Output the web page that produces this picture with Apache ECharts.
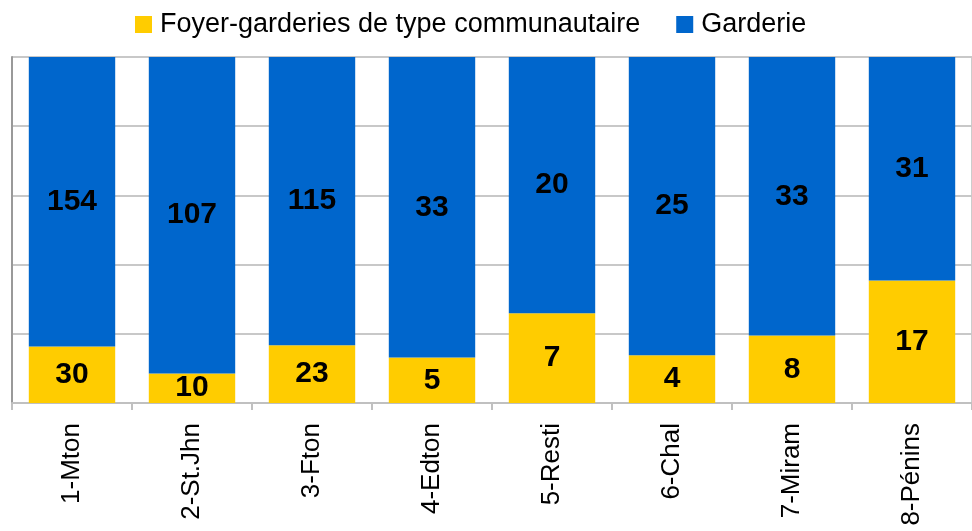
<!DOCTYPE html>
<html><head><meta charset="utf-8">
<script src="https://cdn.jsdelivr.net/npm/echarts@6/dist/echarts.min.js"></script>
<style>html,body{margin:0;padding:0;background:#fff}#c{width:972px;height:531px}</style>
</head><body><div id="c"></div>
<script>
const categories = ['1-Mton','2-St.Jhn','3-Fton','4-Edton','5-Resti','6-Chal','7-Miram','8-Pénins'];
const foyerValues = [30,10,23,5,7,4,8,17];
const garderieValues = [154,107,115,33,20,25,33,31];
const seriesNames = ['Foyer-garderies de type communautaire','Garderie'];

const totals = categories.map((_, i) => foyerValues[i] + garderieValues[i]);
const pct = (arr) => arr.map((v, i) => ({ value: v / totals[i] * 100, raw: v }));

const FONT = 'Liberation Sans, Arial, sans-serif';
const chart = echarts.init(document.getElementById('c'));
const labelStyle = {
  show: true, position: 'inside', color: '#000', fontWeight: 'bold',
  fontSize: 30, fontFamily: FONT,
  formatter: p => p.data.raw
};
chart.setOption({
  animation: false,
  textStyle: { fontFamily: FONT },
  legend: {
    top: 6, left: 130, itemWidth: 17, itemHeight: 17, itemGap: 36,
    icon: 'rect',
    textStyle: { fontSize: 27, color: '#000', fontFamily: FONT, padding: [0, 0, 0, 3] },
    data: seriesNames
  },
  grid: { left: 12, top: 57, width: 968, height: 346, show: true, borderColor: '#999', borderWidth: 1 },
  xAxis: {
    type: 'category', data: categories,
    axisLine: { lineStyle: { color: '#c0c0c0', width: 2 } },
    axisTick: { show: true, length: 7, lineStyle: { color: '#c0c0c0', width: 2 } },
    axisLabel: { rotate: 90, fontSize: 26, color: '#000', margin: 20 }
  },
  yAxis: {
    type: 'value', min: 0, max: 100, interval: 20,
    axisLabel: { show: false },
    axisLine: { show: true, lineStyle: { color: '#999', width: 2 } },
    axisTick: { show: false },
    splitLine: { lineStyle: { color: '#c8c8c8', width: 2 } }
  },
  series: [
    { name: seriesNames[0], type: 'bar', stack: 't', barWidth: '72%',
      itemStyle: { color: '#FFCC00' }, label: labelStyle, data: pct(foyerValues) },
    { name: seriesNames[1], type: 'bar', stack: 't', barWidth: '72%',
      itemStyle: { color: '#0066CC' }, label: labelStyle, data: pct(garderieValues) }
  ]
});
</script></body></html>
